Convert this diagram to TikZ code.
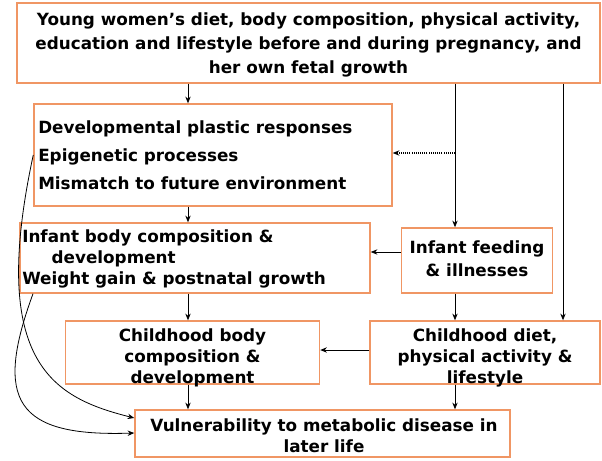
\documentclass[tikz,border=0pt]{standalone}
\usepackage{fontspec}
\setmainfont{DejaVu Sans}
\usetikzlibrary{arrows.meta}
\definecolor{boxor}{RGB}{240,150,100}
\begin{document}
\begin{tikzpicture}[x=0.75pt,y=-0.75pt,
  box/.style={draw=boxor,line width=1.1pt,fill=white,inner sep=0pt},
  lbl/.style={inner sep=0pt,font=\fontsize{12.6}{#1}\bfseries\selectfont},
  arr/.style={-{Stealth[length=5pt,width=4pt]},line width=0.6pt}]
\useasboundingbox (0,0) rectangle (602,460);
% boxes
\node[box,minimum width=583*0.75pt,minimum height=80*0.75pt] (top) at (308.5,43) {};
\node[box,minimum width=358*0.75pt,minimum height=102*0.75pt] (dev) at (213,155) {};
\node[box,minimum width=350*0.75pt,minimum height=70*0.75pt] (inf) at (195,258) {};
\node[box,minimum width=151*0.75pt,minimum height=65*0.75pt] (feed) at (477,260.5) {};
\node[box,minimum width=254*0.75pt,minimum height=63*0.75pt] (cbody) at (192.5,352.5) {};
\node[box,minimum width=230*0.75pt,minimum height=63*0.75pt] (cdiet) at (485,352.5) {};
\node[box,minimum width=375*0.75pt,minimum height=47*0.75pt] (vuln) at (322.5,433.5) {};
% texts
\node[lbl=18,align=center] (topt) at (308.5,45)
  {Young women’s diet, body composition, physical activity,\\
   education and lifestyle before and during pregnancy, and\\
   her own fetal growth};
\node[lbl=21,align=left,anchor=west] (devt) at (38,155.5)
  {Developmental plastic responses\\ Epigenetic processes\\ Mismatch to future environment};
\node[lbl=15.75,align=left,anchor=west] (inft) at (22,259)
  {Infant body composition \&\\ \hspace{1.75em}development\\ Weight gain \& postnatal growth};
\node[lbl=17.5,align=center] (feedt) at (477,258.5) {Infant feeding\\ \& illnesses};
\node[lbl=15.5,align=center] (cbodyt) at (192.5,358) {Childhood body\\ composition \&\\ development};
\node[lbl=15.5,align=center] (cdiett) at (485,358) {Childhood diet,\\ physical activity \&\\ lifestyle};
\node[lbl=16,align=center] (vulnt) at (324,435.5) {Vulnerability to metabolic disease in\\ later life};
% connectors
\draw[arr] (top.south -| 188,0) -- (dev.north -| 188,0);
\draw[arr] (dev.south -| 188,0) -- (inf.north -| 188,0);
\draw[arr] (inf.south -| 188,0) -- (cbody.north -| 188,0);
\draw[arr] (cbody.south -| 188,0) -- (vuln.north -| 188,0);
\coordinate (d1) at (455,153);
\draw[arr] (top.south -| 455,0) -- (feed.north -| 455,0);
\draw[arr] (top.south -| 563,0) -- (cdiet.north -| 563,0);
\draw[arr,densely dotted,line width=0.9pt] (d1) -- (dev.east |- d1);
\draw[arr] (feed.west |- 0,252) -- (inf.east |- 0,252);
\draw[arr] (feed.south -| 455,0) -- (cdiet.north -| 455,0);
\draw[arr] (cdiet.west |- 0,350) -- (cbody.east |- 0,350);
\draw[arr] (cdiet.south -| 455,0) -- (vuln.north -| 455,0);
\coordinate (c1) at (dev.west |- 0,155);
\coordinate (c2) at (inf.south -| 33,0);
\draw[arr] (c1) .. controls (-12,365) and (55,398) .. (vuln.west |- 0,418);
\draw[arr] (c2) .. controls (-6,400) and (15,437) .. (vuln.west |- 0,433);
\end{tikzpicture}
\end{document}
